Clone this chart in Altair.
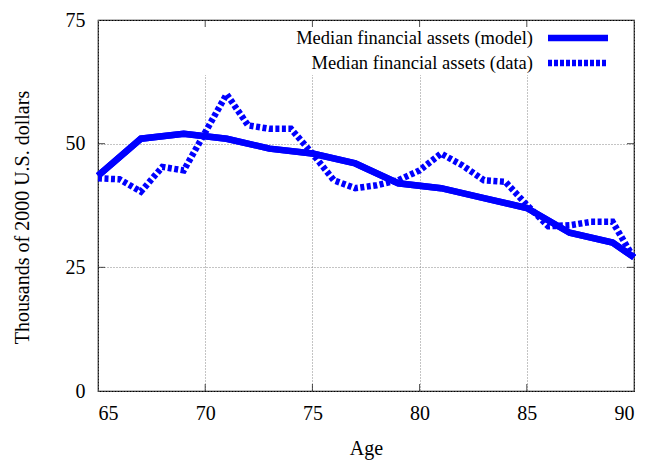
import altair as alt
import pandas as pd

model_age = [65, 67, 69, 71, 73, 75, 77, 79, 81, 83, 85, 87, 89, 90]
model_val = [43.5, 51, 52, 51, 49, 48, 46, 42, 41, 39, 37, 32, 30, 27]

data_age = list(range(65, 91))
data_val = [43, 42.8, 40.3, 45.3, 44.6, 52.3, 60, 53.7, 53, 53, 48, 42.6, 41,
            41.6, 42.6, 44.6, 48, 45.6, 42.6, 42.3, 37.6, 33.3, 33.5, 34.2, 34.2, 26.8]

x_ticks = [65, 70, 75, 80, 85, 90]
y_ticks = [0, 25, 50, 75]
legend_labels = ["Median financial assets (model)", "Median financial assets (data)"]

W, H = 536, 371
FONT = "Liberation Serif"
BLUE = "#0000ff"

model_df = pd.DataFrame({"age": model_age, "val": model_val})
data_df = pd.DataFrame({"age": data_age, "val": data_val})
xt_df = pd.DataFrame({"t": x_ticks[1:-1]})
yt_df = pd.DataFrame({"t": y_ticks[1:-1]})

xs = alt.Scale(domain=[65, 90], nice=False, zero=False)
ys = alt.Scale(domain=[0, 75], nice=False)

x_enc = alt.X("age:Q", scale=xs, title="Age",
              axis=alt.Axis(values=x_ticks, grid=True, ticks=False, domain=False,
                            labelPadding=12, titlePadding=15,
                            gridDash=[1, 2], gridColor="#888888", gridWidth=1))
y_enc = alt.Y("val:Q", scale=ys, title="Thousands of 2000 U.S. dollars",
              axis=alt.Axis(values=y_ticks, grid=True, ticks=False, domain=False,
                            labelPadding=13, titlePadding=33, titleY=197,
                            gridDash=[1, 2], gridColor="#888888", gridWidth=1))

base_model = alt.Chart(model_df).mark_line(color=BLUE, strokeWidth=6.5).encode(x=x_enc, y=y_enc)

cover = alt.Chart(model_df).mark_rect(color="white").encode(
    x=alt.value(1), x2=alt.value(W - 1), y=alt.value(1), y2=alt.value(55))

data_line = alt.Chart(data_df).mark_line(color=BLUE, strokeWidth=6.5, strokeDash=[4, 2.5]).encode(
    x=alt.X("age:Q", scale=xs), y=alt.Y("val:Q", scale=ys))

model_line = alt.Chart(model_df).mark_line(color=BLUE, strokeWidth=6.5).encode(
    x=alt.X("age:Q", scale=xs), y=alt.Y("val:Q", scale=ys))

tick_b = alt.Chart(xt_df).mark_tick(color="black", size=7, thickness=1).encode(
    x=alt.X("t:Q", scale=xs), y=alt.value(H - 3.5))
tick_t = alt.Chart(xt_df).mark_tick(color="black", size=7, thickness=1).encode(
    x=alt.X("t:Q", scale=xs), y=alt.value(3.5))
tick_l = alt.Chart(yt_df).mark_tick(color="black", size=7, thickness=1).encode(
    y=alt.Y("t:Q", scale=ys), x=alt.value(3.5))
tick_r = alt.Chart(yt_df).mark_tick(color="black", size=7, thickness=1).encode(
    y=alt.Y("t:Q", scale=ys), x=alt.value(W - 3.5))

leg_df = pd.DataFrame({"label": legend_labels})
leg_text1 = alt.Chart(leg_df.iloc[[0]]).mark_text(
    align="right", baseline="middle", font=FONT, fontSize=18.5, color="black").encode(
    text="label:N", x=alt.value(435), y=alt.value(18))
leg_text2 = alt.Chart(leg_df.iloc[[1]]).mark_text(
    align="right", baseline="middle", font=FONT, fontSize=18.5, color="black").encode(
    text="label:N", x=alt.value(435), y=alt.value(43))
leg_line1 = alt.Chart(leg_df.iloc[[0]]).mark_rule(color=BLUE, strokeWidth=6.5).encode(
    x=alt.value(450), x2=alt.value(510), y=alt.value(18))
leg_line2 = alt.Chart(leg_df.iloc[[1]]).mark_rule(color=BLUE, strokeWidth=6.5, strokeDash=[4, 2]).encode(
    x=alt.value(450), x2=alt.value(510), y=alt.value(43))

chart = alt.layer(
    base_model, cover, data_line, model_line,
    tick_b, tick_t, tick_l, tick_r,
    leg_text1, leg_text2, leg_line1, leg_line2
).properties(
    width=W, height=H,
    autosize=alt.AutoSizeParams(type="none"),
    padding={"left": 90, "top": 12, "right": 8, "bottom": 69},
).configure(
    background="white"
).configure_view(
    stroke="black", strokeWidth=1.2
).configure_axis(
    labelFont=FONT, titleFont=FONT, labelFontSize=20, titleFontSize=20,
    labelColor="black", titleColor="black", titleFontWeight="normal",
)

chart.save("out.html", embed_options={"renderer": "svg", "actions": False})
